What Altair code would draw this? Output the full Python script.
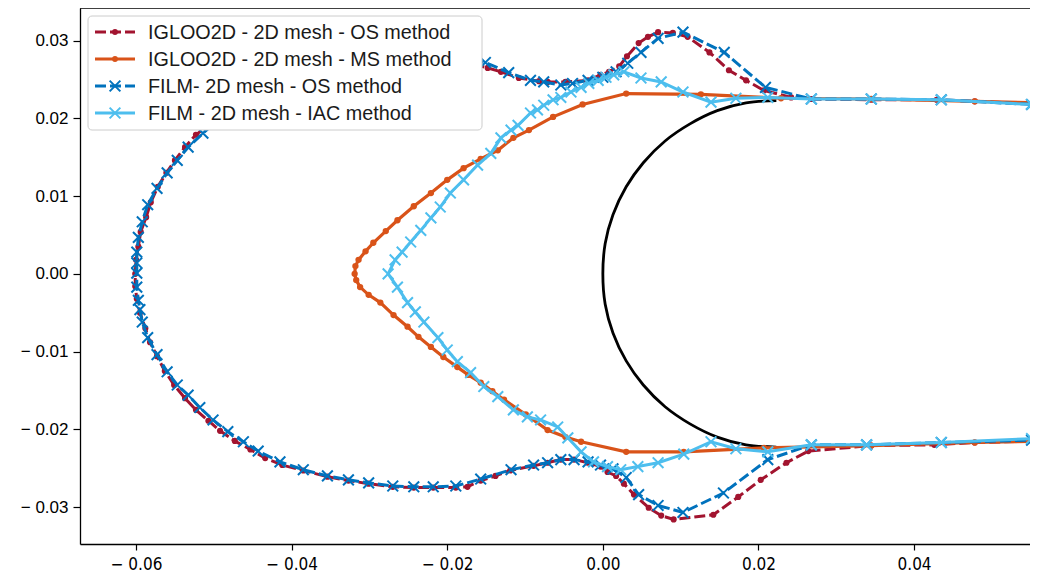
import altair as alt
import pandas as pd

# ---------------- data ----------------
CIRCLE_X = [0.0223, 0.0184, 0.0147, 0.0112, 0.0080, 0.0052, 0.0030, 0.0013, 0.0003, 0.0000,
            0.0003, 0.0013, 0.0030, 0.0052, 0.0080, 0.0112, 0.0147, 0.0184, 0.0223]
CIRCLE_Y = [0.0223, 0.0220, 0.0210, 0.0193, 0.0171, 0.0143, 0.0112, 0.0076, 0.0039, 0.0000,
            -0.0039, -0.0076, -0.0112, -0.0143, -0.0171, -0.0193, -0.0210, -0.0220, -0.0223]

RED_X = [0.0570, 0.0478, 0.0429, 0.0345, 0.0268, 0.0242, 0.0207, 0.0184, 0.0162, 0.0137,
         0.0109, 0.0090, 0.0071, 0.0058, 0.0046, 0.0031, 0.0021, 0.0008, -0.0003, -0.0019,
         -0.0048, -0.0071, -0.0082, -0.0108, -0.0131, -0.0148, -0.0170, -0.0189, -0.0218, -0.0243,
         -0.0270, -0.0301, -0.0327, -0.0354, -0.0385, -0.0412, -0.0434, -0.0453, -0.0473, -0.0492,
         -0.0507, -0.0523, -0.0537, -0.0550, -0.0561, -0.0572, -0.0581, -0.0587, -0.0594, -0.0597,
         -0.0600, -0.0601, -0.0601, -0.0599, -0.0595, -0.0588, -0.0582, -0.0573, -0.0563, -0.0551,
         -0.0537, -0.0523, -0.0507, -0.0492, -0.0473, -0.0453, -0.0434, -0.0412, -0.0385, -0.0354,
         -0.0327, -0.0301, -0.0270, -0.0243, -0.0218, -0.0189, -0.0174, -0.0157, -0.0138, -0.0119,
         -0.0089, -0.0071, -0.0054, -0.0037, -0.0019, -0.0003, 0.0006, 0.0017, 0.0027, 0.0040,
         0.0059, 0.0075, 0.0091, 0.0142, 0.0174, 0.0203, 0.0236, 0.0264, 0.0345, 0.0426,
         0.0478, 0.0570]
RED_Y = [0.0218, 0.0222, 0.0224, 0.0224, 0.0225, 0.0227, 0.0236, 0.0249, 0.0262, 0.0285,
         0.0305, 0.0310, 0.0311, 0.0305, 0.0297, 0.0280, 0.0267, 0.0260, 0.0256, 0.0249,
         0.0247, 0.0247, 0.0248, 0.0252, 0.0260, 0.0265, 0.0271, 0.0274, 0.0274, 0.0274,
         0.0272, 0.0270, 0.0265, 0.0260, 0.0252, 0.0243, 0.0234, 0.0225, 0.0215, 0.0203,
         0.0191, 0.0179, 0.0163, 0.0146, 0.0130, 0.0112, 0.0092, 0.0073, 0.0054, 0.0035,
         0.0018, 0.0000, -0.0016, -0.0032, -0.0050, -0.0070, -0.0088, -0.0106, -0.0125, -0.0143,
         -0.0160, -0.0175, -0.0189, -0.0202, -0.0215, -0.0226, -0.0237, -0.0246, -0.0253, -0.0261,
         -0.0266, -0.0270, -0.0274, -0.0275, -0.0275, -0.0275, -0.0274, -0.0266, -0.0260, -0.0253,
         -0.0247, -0.0243, -0.0239, -0.0239, -0.0243, -0.0248, -0.0255, -0.0260, -0.0270, -0.0284,
         -0.0301, -0.0311, -0.0316, -0.0310, -0.0287, -0.0265, -0.0243, -0.0228, -0.0221, -0.0220,
         -0.0217, -0.0215]

ORANGE_X = [0.0570, 0.0478, 0.0345, 0.0229, 0.0126, 0.0030, -0.0026, -0.0064, -0.0095, -0.0115,
            -0.0135, -0.0157, -0.0179, -0.0200, -0.0221, -0.0243, -0.0264, -0.0279, -0.0295, -0.0305,
            -0.0314, -0.0318, -0.0319, -0.0317, -0.0312, -0.0301, -0.0286, -0.0269, -0.0251, -0.0237,
            -0.0221, -0.0205, -0.0187, -0.0173, -0.0157, -0.0142, -0.0127, -0.0099, -0.0071, -0.0048,
            -0.0028, 0.0030, 0.0104, 0.0207, 0.0345, 0.0478, 0.0570]
ORANGE_Y = [0.0220, 0.0222, 0.0225, 0.0226, 0.0231, 0.0232, 0.0218, 0.0202, 0.0185, 0.0175,
            0.0159, 0.0148, 0.0136, 0.0121, 0.0104, 0.0087, 0.0069, 0.0055, 0.0040, 0.0029,
            0.0018, 0.0010, 0.0000, -0.0008, -0.0017, -0.0027, -0.0037, -0.0053, -0.0068, -0.0081,
            -0.0094, -0.0107, -0.0120, -0.0130, -0.0140, -0.0151, -0.0162, -0.0181, -0.0201, -0.0210,
            -0.0216, -0.0229, -0.0229, -0.0224, -0.0221, -0.0217, -0.0215]

BLUE_X = [0.0570, 0.0551, 0.0435, 0.0345, 0.0268, 0.0209, 0.0156, 0.0103, 0.0071, 0.0049,
          0.0032, 0.0017, 0.0000, -0.0019, -0.0039, -0.0054, -0.0076, -0.0093, -0.0121, -0.0151,
          -0.0189, -0.0218, -0.0243, -0.0270, -0.0301, -0.0327, -0.0354, -0.0385, -0.0412, -0.0434,
          -0.0453, -0.0473, -0.0492, -0.0514, -0.0533, -0.0547, -0.0560, -0.0573, -0.0585, -0.0592,
          -0.0597, -0.0599, -0.0599, -0.0599, -0.0599, -0.0597, -0.0595, -0.0592, -0.0585, -0.0573,
          -0.0560, -0.0547, -0.0533, -0.0518, -0.0501, -0.0482, -0.0462, -0.0443, -0.0415, -0.0385,
          -0.0354, -0.0327, -0.0301, -0.0270, -0.0243, -0.0218, -0.0189, -0.0157, -0.0118, -0.0089,
          -0.0071, -0.0054, -0.0037, -0.0019, -0.0003, 0.0013, 0.0030, 0.0046, 0.0071, 0.0103,
          0.0155, 0.0212, 0.0268, 0.0339, 0.0435, 0.0551, 0.0570]
BLUE_Y = [0.0218, 0.0218, 0.0224, 0.0225, 0.0225, 0.0240, 0.0285, 0.0311, 0.0303, 0.0285,
          0.0271, 0.0260, 0.0253, 0.0249, 0.0245, 0.0243, 0.0247, 0.0249, 0.0259, 0.0272,
          0.0275, 0.0275, 0.0275, 0.0273, 0.0270, 0.0265, 0.0260, 0.0252, 0.0243, 0.0234,
          0.0225, 0.0214, 0.0200, 0.0181, 0.0163, 0.0146, 0.0130, 0.0110, 0.0089, 0.0067,
          0.0047, 0.0028, 0.0014, 0.0001, -0.0017, -0.0034, -0.0046, -0.0062, -0.0082, -0.0104,
          -0.0126, -0.0143, -0.0156, -0.0172, -0.0188, -0.0203, -0.0216, -0.0228, -0.0242, -0.0252,
          -0.0260, -0.0265, -0.0269, -0.0273, -0.0274, -0.0274, -0.0273, -0.0264, -0.0252, -0.0246,
          -0.0243, -0.0239, -0.0239, -0.0242, -0.0246, -0.0251, -0.0262, -0.0284, -0.0298, -0.0307,
          -0.0282, -0.0239, -0.0220, -0.0220, -0.0217, -0.0214, -0.0213]

LBLUE_X = [0.0570, 0.0551, 0.0435, 0.0345, 0.0268, 0.0212, 0.0171, 0.0139, 0.0103, 0.0075,
           0.0049, 0.0027, 0.0014, 0.0004, -0.0006, -0.0018, -0.0028, -0.0041, -0.0054, -0.0064,
           -0.0076, -0.0084, -0.0093, -0.0109, -0.0118, -0.0131, -0.0144, -0.0161, -0.0179, -0.0196,
           -0.0209, -0.0221, -0.0234, -0.0247, -0.0258, -0.0267, -0.0276, -0.0264, -0.0251, -0.0241,
           -0.0230, -0.0212, -0.0200, -0.0187, -0.0170, -0.0153, -0.0135, -0.0115, -0.0097, -0.0080,
           -0.0058, -0.0045, -0.0028, -0.0012, 0.0006, 0.0023, 0.0045, 0.0071, 0.0104, 0.0139,
           0.0171, 0.0212, 0.0268, 0.0339, 0.0435, 0.0551, 0.0570]
LBLUE_Y = [0.0218, 0.0218, 0.0224, 0.0225, 0.0225, 0.0227, 0.0226, 0.0221, 0.0234, 0.0247,
           0.0252, 0.0260, 0.0256, 0.0253, 0.0249, 0.0245, 0.0240, 0.0234, 0.0227, 0.0224,
           0.0217, 0.0211, 0.0207, 0.0191, 0.0185, 0.0175, 0.0155, 0.0140, 0.0121, 0.0104,
           0.0086, 0.0072, 0.0056, 0.0041, 0.0028, 0.0018, 0.0000, -0.0017, -0.0037, -0.0049,
           -0.0062, -0.0082, -0.0098, -0.0113, -0.0127, -0.0145, -0.0158, -0.0175, -0.0184, -0.0188,
           -0.0197, -0.0211, -0.0229, -0.0242, -0.0248, -0.0252, -0.0248, -0.0243, -0.0232, -0.0216,
           -0.0225, -0.0229, -0.0220, -0.0220, -0.0217, -0.0212, -0.0212]

X_TICKS = [-0.06, -0.04, -0.02, 0.0, 0.02, 0.04]
Y_TICKS = [-0.03, -0.02, -0.01, 0.0, 0.01, 0.02, 0.03]
LEGEND_LABELS = ["IGLOO2D - 2D mesh - OS method",
                 "IGLOO2D - 2D mesh - MS method",
                 "FILM- 2D mesh - OS method",
                 "FILM - 2D mesh - IAC method"]

# ---------------- style ----------------
W, H = 950, 536
FONT = "Liberation Sans"
RED, ORANGE, BLUE, LBLUE = "#A2142F", "#D95319", "#0072BD", "#4DBEEE"
XSHAPE = "M-1,-1L1,1M-1,1L1,-1"
DASH = [11, 4]

x_scale = alt.Scale(domain=[-0.0672, 0.0549], nice=False, zero=False)
y_scale = alt.Scale(domain=[-0.03476, 0.03421], nice=False, zero=False)
label_expr = ("datum.value < -0.000001 ? '\u2212 ' + format(-datum.value, '.2f') "
              ": format(abs(datum.value), '.2f')")
x_axis = alt.Axis(values=X_TICKS, labelExpr=label_expr, title=None, grid=False,
                  tickSize=6, tickColor="black", tickWidth=1.2, domainColor="black",
                  domainWidth=1.3, labelFontSize=17,
                  labelFont="Liberation Sans Narrow, DejaVu Sans Condensed, Liberation Sans",
                  labelColor="black", labelPadding=6)
y_axis = alt.Axis(values=Y_TICKS, labelExpr=label_expr, title=None, grid=False,
                  tickSize=7, tickColor="black", tickWidth=1.2, domainColor="black",
                  domainWidth=1.3, labelFontSize=17, labelFont=FONT,
                  labelColor="black", labelPadding=5)


def frame(xs, ys):
    return pd.DataFrame({"x": xs, "y": ys, "i": list(range(len(xs)))})


def enc(ordered=True):
    d = dict(x=alt.X("x:Q", scale=x_scale, axis=x_axis),
             y=alt.Y("y:Q", scale=y_scale, axis=y_axis))
    if ordered:
        d["order"] = alt.Order("i:Q")
    return d


def line(df, color, width=3, dash=None, interp=None):
    kw = dict(color=color, strokeWidth=width, clip=True)
    if dash:
        kw["strokeDash"] = dash
    if interp:
        kw["interpolate"] = interp
    return alt.Chart(df).mark_line(**kw).encode(**enc())


def dots(df, color, size=30):
    return alt.Chart(df).mark_circle(color=color, size=size, opacity=1, clip=True).encode(**enc(False))


def crosses(df, color, size=115):
    return alt.Chart(df).mark_point(shape=XSHAPE, filled=False, color=color, size=size,
                                    strokeWidth=2, opacity=1, clip=True).encode(**enc(False))


circle_df = frame(CIRCLE_X, CIRCLE_Y)
red_df = frame(RED_X, RED_Y)
orange_df = frame(ORANGE_X, ORANGE_Y)
blue_df = frame(BLUE_X, BLUE_Y)
lblue_df = frame(LBLUE_X, LBLUE_Y)

layers = [
    line(circle_df, "black", width=2.8, interp="catmull-rom"),
    line(red_df, RED, dash=DASH), dots(red_df, RED, size=38),
    line(orange_df, ORANGE, width=3.2), dots(orange_df, ORANGE, size=40),
    line(blue_df, BLUE, dash=DASH), crosses(blue_df, BLUE),
    line(lblue_df, LBLUE), crosses(lblue_df, LBLUE),
]

ONE = pd.DataFrame({"k": [0]})
# top spine
layers.append(alt.Chart(ONE).mark_rule(color="black", strokeWidth=1.3).encode(
    x=alt.value(0), x2=alt.value(W), y=alt.value(0)))
# legend box
layers.append(alt.Chart(ONE).mark_rect(fill="white", stroke="#cccccc", strokeWidth=1,
                                       cornerRadius=4).encode(
    x=alt.value(8), x2=alt.value(402), y=alt.value(8), y2=alt.value(122)))

leg_colors = [RED, ORANGE, BLUE, LBLUE]
leg_dash = [DASH, None, DASH, None]
leg_marker = ["dot", "dot", "x", "x"]
for k, lab in enumerate(LEGEND_LABELS):
    ry = 24 + 27 * k
    rkw = dict(color=leg_colors[k], strokeWidth=3)
    if leg_dash[k]:
        rkw["strokeDash"] = leg_dash[k]
    layers.append(alt.Chart(ONE).mark_rule(**rkw).encode(
        x=alt.value(15), x2=alt.value(55), y=alt.value(ry)))
    if leg_marker[k] == "dot":
        layers.append(alt.Chart(ONE).mark_circle(color=leg_colors[k], size=34, opacity=1).encode(
            x=alt.value(35), y=alt.value(ry)))
    else:
        layers.append(alt.Chart(ONE).mark_point(shape=XSHAPE, filled=False, color=leg_colors[k],
                                                size=115, strokeWidth=2, opacity=1).encode(
            x=alt.value(35), y=alt.value(ry)))
    layers.append(alt.Chart(ONE).mark_text(align="left", baseline="middle", fontSize=19.8,
                                           font=FONT, color="#1a1a1a").encode(
        x=alt.value(68), y=alt.value(ry + 1), text=alt.value(lab)))

chart = alt.layer(*layers).properties(
    width=W, height=H,
    padding={"left": 72, "top": 0, "right": 0, "bottom": 29},
    autosize=alt.AutoSizeParams(type="none"),
).configure_view(stroke=None)

chart.save("out.html", embed_options={"renderer": "svg", "actions": False})
